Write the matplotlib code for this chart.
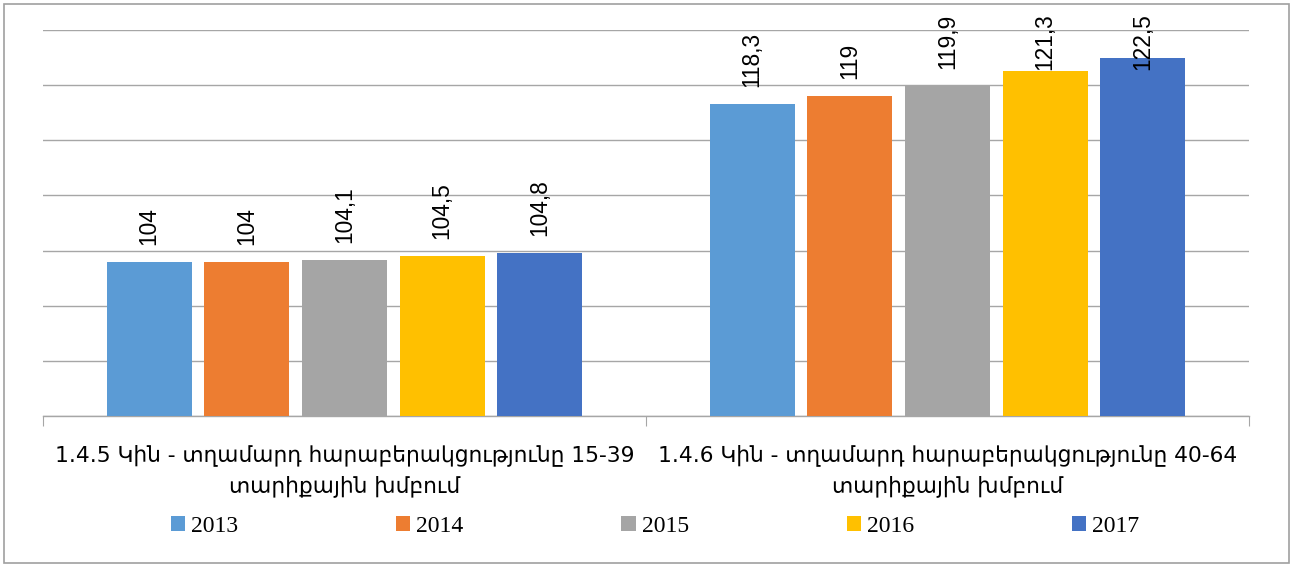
import matplotlib
matplotlib.use('Agg')
import matplotlib.pyplot as plt
from matplotlib.patches import Rectangle
import numpy as np

categories = ["1.4.5 Կին - տղամարդ հարաբերակցությունը 15-39\nտարիքային խմբում",
              "1.4.6 Կին - տղամարդ հարաբերակցությունը 40-64\nտարիքային խմբում"]
years = ["2013", "2014", "2015", "2016", "2017"]
v2013 = [104.0, 118.3]
v2014 = [104.0, 119.0]
v2015 = [104.1, 119.9]
v2016 = [104.5, 121.3]
v2017 = [104.8, 122.5]
series = [v2013, v2014, v2015, v2016, v2017]
colors = ["#5B9BD5", "#ED7D31", "#A5A5A5", "#FFC000", "#4472C4"]

W, H = 1293, 567
fig = plt.figure(figsize=(W / 100, H / 100), dpi=100)
ax = fig.add_axes([43 / W, 1 - 416 / H, (1249 - 43) / W, (416 - 30) / H])

x = np.arange(len(categories))
slot = 0.162
width = 0.141
handles = []
for i, (yr, vals, c) in enumerate(zip(years, series, colors)):
    b = ax.bar(x + (i - 2) * slot, vals, width, color=c, label=yr, zorder=3)
    handles.append(b)

ax.set_ylim(90, 125)
ax.set_xlim(-0.5, 1.5)
ax.set_yticks(np.arange(90, 126, 5))
ax.set_yticklabels([])
ax.tick_params(axis='y', length=0)
ax.yaxis.grid(True, color='#a6a6a6', lw=1, zorder=0)
ax.set_axisbelow(True)
for s in ['top', 'left', 'right']:
    ax.spines[s].set_visible(False)
ax.spines['bottom'].set_color('#a6a6a6')
ax.spines['bottom'].set_linewidth(1)

ax.set_xticks([-0.5, 0.5, 1.5])
ax.set_xticklabels([])
ax.tick_params(axis='x', which='major', length=7, color='#a6a6a6', direction='out')
ax.set_xticks(x, minor=True)
ax.set_xticklabels(categories, minor=True, family=['DejaVu Sans'], fontsize=15.7,
                   linespacing=1.55, color='#000000')
ax.tick_params(axis='x', which='minor', length=0, pad=20)

# data labels
fig.canvas.draw()
renderer = fig.canvas.get_renderer()
for i, vals in enumerate(series):
    for j, v in enumerate(vals):
        xd = x[j] + (i - 2) * slot
        px, py = ax.transData.transform((xd, v))
        txt = f"{v:g}".replace('.', ',')
        t = fig.text(px / W, (py + 17) / H, txt, rotation=90, ha='center', va='bottom',
                     family=['Liberation Sans', 'DejaVu Sans'], fontsize=16.4, color='#000000')
        bb = t.get_window_extent(renderer)
        top_lim = H - 13
        if bb.y1 > top_lim:
            t.set_position((px / W, (py + 17 - (bb.y1 - top_lim)) / H))

leg = fig.legend(handles=handles, labels=years, loc='center', ncol=5,
                 bbox_to_anchor=(655 / W, 1 - 526 / H), frameon=False,
                 prop={'family': ['Liberation Serif', 'DejaVu Serif'], 'size': 17},
                 handlelength=0.6, handleheight=0.6, handletextpad=0.25, columnspacing=6.69)

fig.patches.append(Rectangle((4 / W, 4 / H), (W - 8) / W, (H - 8) / H, transform=fig.transFigure,
                             fill=False, ec='#a0a0a0', lw=1.2))

fig.savefig('out.png', dpi=100)
